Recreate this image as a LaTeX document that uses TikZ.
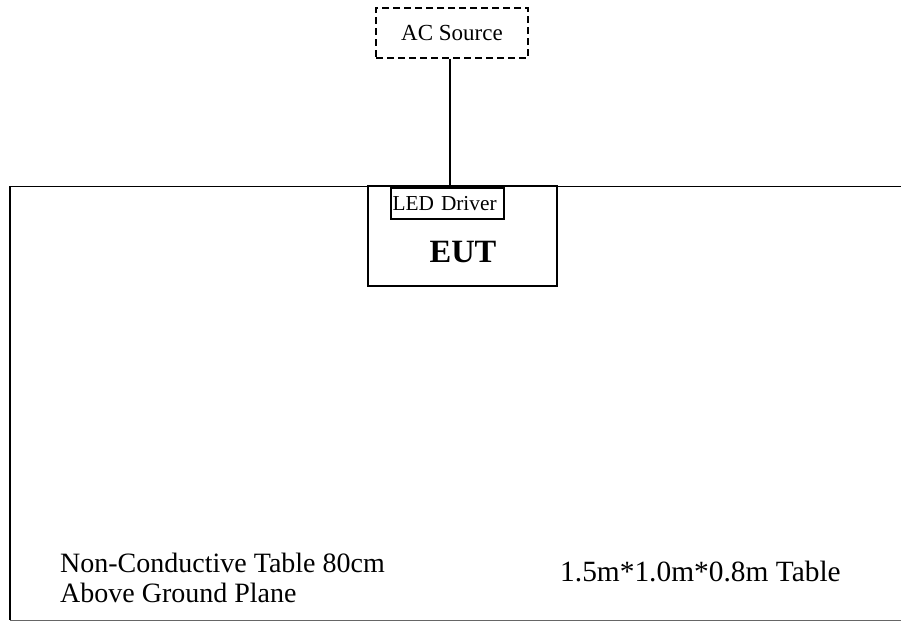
\documentclass[tikz,border=0pt]{standalone}
\usepackage{fontspec}
\setmainfont{Liberation Serif}
\usetikzlibrary{positioning}

\tikzset{
  unitbox/.style={draw, line width=1.5pt, inner sep=0pt, anchor=center},
  srcbox/.style={unitbox, dash pattern=on 7pt off 4pt},
  tablelabel/.style={anchor=north west, inner sep=0pt, font=\fontsize{28}{33}\selectfont, align=left}
}

\begin{document}
\begin{tikzpicture}[x=1pt,y=1pt,yscale=-1,xscale=1]
  \useasboundingbox (0,0) rectangle (901,621);
  %Table outline
  \draw [line width=1.6pt] (901,186.5) -- (10,186.5) -- (10,620);
  \draw [line width=0.8pt, color=black!60] (10,620) -- (901,620);
  %Shape: AC source (dashed)
  \node [srcbox, minimum width=152pt, minimum height=50pt, font=\fontsize{23}{27}\selectfont] (src) at (452,33) {AC Source};
  %Shape: EUT
  \node [unitbox, minimum width=189pt, minimum height=100pt] (eut) at (462.5,236) {};
  %Shape: LED driver
  \node [unitbox, inner xsep=1.5pt, text width=110pt, minimum height=31pt, align=left, font=\fontsize{21.3}{25}\selectfont] (drv) at (447.5,203.5) {LED Driver};
  %Straight Lines: supply cable
  \draw [line width=1.5pt] (src.south -| 450,0) -- (eut.north -| 450,0);

  % Text Node
  \node [inner sep=0pt, font=\bfseries\fontsize{32.5}{38}\selectfont] (euttxt) at (463,252) {EUT};
  % Text Node
  \node [tablelabel] (tabtxt) at (60,553) {Non-Conductive Table 80cm\\[-3pt]Above Ground Plane};
  % Text Node
  \node [tablelabel, font=\fontsize{29.4}{34}\selectfont] (sizetxt) at (560,561) {1.5m*1.0m*0.8m Table};
\end{tikzpicture}
\end{document}
